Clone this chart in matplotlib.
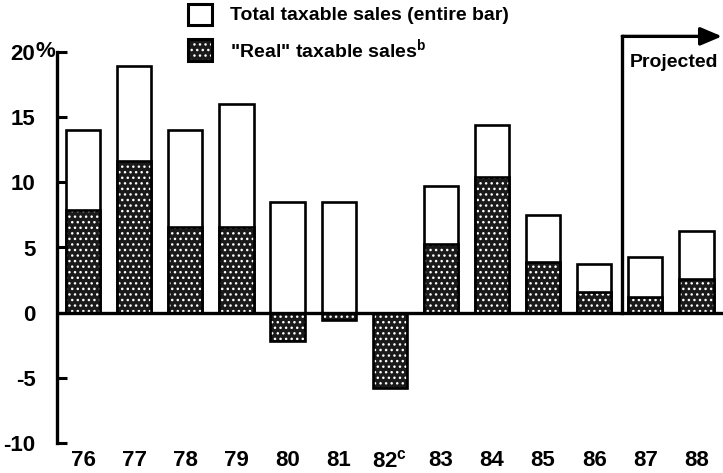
import matplotlib
matplotlib.use("Agg")
import matplotlib.pyplot as plt
from matplotlib.patches import Rectangle
import numpy as np

plt.rcParams['font.family'] = ['Liberation Sans', 'DejaVu Sans']
plt.rcParams['mathtext.fontset'] = 'custom'
plt.rcParams['mathtext.rm'] = 'Liberation Sans'
plt.rcParams['mathtext.bf'] = 'Liberation Sans:bold'
plt.rcParams['hatch.linewidth'] = 1.0

# ---- data ----
years = ['76', '77', '78', '79', '80', '81', '82$^{\\mathregular{c}}$',
         '83', '84', '85', '86', '87', '88']
total_sales = [14.0, 18.9, 14.0, 16.0, 8.5, 8.5, np.nan,
               9.7, 14.4, 7.5, 3.7, 4.3, 6.3]
real_sales = [7.9, 11.6, 6.6, 6.6, -2.2, -0.6, -5.8,
              5.3, 10.4, 3.9, 1.6, 1.2, 2.6]
ytick_vals = [-10, -5, 0, 5, 10, 15, 20]
ytick_labels = ['-10', '-5', '0', '5', '10', '15', '20']
legend_labels = ['Total taxable sales (entire bar)',
                 '"Real" taxable sales$^{\\mathregular{b}}$']
projected_label = 'Projected'

W, H = 723, 473
fig = plt.figure(figsize=(W / 100, H / 100), dpi=100)
ax = fig.add_axes([57 / W, 30 / H, (W - 57) / W, 391 / H])

x = np.arange(len(years))
bw = 0.67
elw = 1.9
DARK = '#1a1a1a'
FS = 16
FS_TXT = 14

ax.bar(x, total_sales, width=bw, facecolor='white', edgecolor='black',
       linewidth=elw, zorder=2)
ax.bar(x, real_sales, width=bw, facecolor=DARK, edgecolor='none',
       linewidth=0, zorder=3)
ax.bar(x, real_sales, width=bw, facecolor='none', edgecolor='white',
       linewidth=0, hatch='...', zorder=4)
ax.bar(x, real_sales, width=bw, facecolor='none', edgecolor='black',
       linewidth=elw, zorder=5)

ax.axhline(0, color='black', linewidth=2.4, zorder=6)

ax.set_xlim(-0.51, 12.52)
ax.set_ylim(-10, 20)
for s in ['top', 'right', 'bottom']:
    ax.spines[s].set_visible(False)
ax.spines['left'].set_linewidth(2.4)
ax.spines['left'].set_zorder(7)

ax.set_yticks(ytick_vals)
ax.set_yticklabels(ytick_labels)
ax.tick_params(axis='y', direction='in', length=7.2, width=2.2,
               pad=15.5, labelsize=FS)
ax.set_xticks(x)
ax.set_xticklabels(years)
ax.tick_params(axis='x', length=0, pad=5, labelsize=FS)
for lab in ax.get_yticklabels() + ax.get_xticklabels():
    lab.set_fontweight('bold')

ax.annotate('%', xy=(0, 20), xycoords=('axes fraction', 'data'),
            xytext=(-22, 0), textcoords='offset pixels',
            ha='left', va='center', fontsize=FS, fontweight='bold')

# Projected bracket
xp = 10.55
ax.plot([xp, xp], [0, 21.2], color='black', linewidth=2.4, clip_on=False,
        zorder=6, solid_capstyle='projecting')
ax.annotate('', xy=(12.5, 21.2), xytext=(xp, 21.2),
            xycoords='data', annotation_clip=False,
            arrowprops=dict(arrowstyle='-|>,head_length=1.3,head_width=0.55',
                            color='black', linewidth=2.4, shrinkA=0, shrinkB=0))
ax.text(xp + 0.15, 19.2, projected_label, ha='left', va='center',
        fontsize=FS_TXT, fontweight='bold', clip_on=False)

# Legend
def fig_rect(x0, y0, w, h, **kw):
    r = Rectangle((x0 / W, 1 - (y0 + h) / H), w / W, h / H,
                  transform=fig.transFigure, **kw)
    fig.add_artist(r)

fig_rect(188, 4, 24, 21, facecolor='white', edgecolor='black', linewidth=2.2)
fig_rect(188, 39, 24, 22, facecolor=DARK, edgecolor='none')
fig_rect(188, 39, 24, 22, facecolor='none', edgecolor='white', linewidth=0,
         hatch='...')
fig_rect(188, 39, 24, 22, facecolor='none', edgecolor='black', linewidth=2.2)
fig.text(230 / W, 1 - 15 / H, legend_labels[0], ha='left', va='center',
         fontsize=FS_TXT, fontweight='bold')
fig.text(230 / W, 1 - 50 / H, legend_labels[1], ha='left', va='center',
         fontsize=FS_TXT, fontweight='bold')

fig.savefig('out.png', dpi=100, facecolor='white')
